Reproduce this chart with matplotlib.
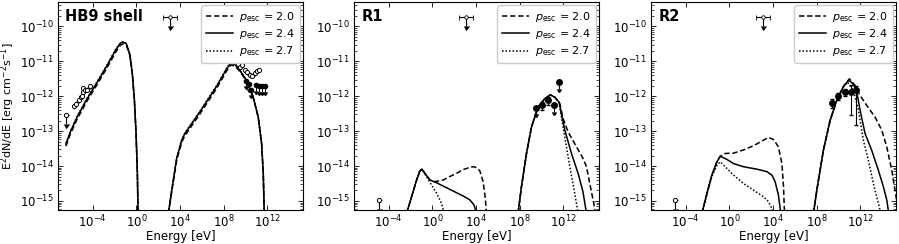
import numpy as np
import matplotlib
matplotlib.use("Agg")
import matplotlib.pyplot as plt
from matplotlib.lines import Line2D
from matplotlib.ticker import FixedLocator, LogLocator, NullFormatter

plt.rcParams['font.family'] = ['DejaVu Sans']
plt.rcParams['mathtext.fontset'] = 'dejavusans'

# ---------------- data (log10 E [eV], log10 E^2dN/dE [erg cm^-2 s^-1]) -------------
panel_titles = ["HB9 shell", "R1", "R2"]
legend_labels = [r"$p_{\rm esc}$ = 2.0", r"$p_{\rm esc}$ = 2.4", r"$p_{\rm esc}$ = 2.7"]
xtick_exps = [-4, 0, 4, 8, 12]

# HB9 shell - low-energy (synchrotron) component
hb9_lo_E = [-6.47, -6.06, -5.45, -4.52, -3.6, -2.69, -1.93, -1.47, -1.22, -0.92, -0.61, -0.37, -0.18, -0.03, 0.09, 0.15]
hb9_lo_20 = [-13.43, -13.08, -12.66, -12.13, -11.66, -11.18, -10.75, -10.54, -10.5, -10.55, -10.83, -11.4, -12.16, -13.1, -14.23, -15.35]
hb9_lo_24 = [-13.37, -13.02, -12.6, -12.07, -11.6, -11.12, -10.69, -10.48, -10.45, -10.5, -10.79, -11.36, -12.12, -13.07, -14.21, -15.35]
hb9_lo_27 = [-13.35, -13.0, -12.58, -12.05, -11.58, -11.1, -10.67, -10.47, -10.44, -10.49, -10.78, -11.35, -12.11, -13.06, -14.2, -15.35]
# HB9 shell - high-energy component
hb9_hi_E = [2.94, 3.25, 3.7, 4.16, 4.45, 5.83, 7.36, 8.28, 8.64, 9.04, 9.5, 10.12, 10.73, 11.19, 11.5, 11.65, 11.74]
hb9_hi_20 = [-15.35, -14.72, -13.83, -13.32, -13.13, -12.51, -11.78, -11.28, -11.11, -11.13, -11.29, -11.57, -12.04, -12.6, -13.36, -14.21, -15.35]
hb9_hi_24 = [-15.35, -14.69, -13.78, -13.26, -13.07, -12.45, -11.72, -11.22, -11.06, -11.09, -11.26, -11.55, -12.03, -12.6, -13.36, -14.21, -15.35]
hb9_hi_27 = [-15.35, -14.67, -13.76, -13.24, -13.05, -12.43, -11.7, -11.2, -11.05, -11.08, -11.25, -11.55, -12.03, -12.6, -13.36, -14.21, -15.35]
# HB9 data
hb9_radio_E = [-5.73, -5.55, -5.3, -5.12, -5.0, -4.94, -4.88, -4.7, -4.52, -4.27]
hb9_radio_F = [-12.29, -12.21, -12.12, -12.03, -11.98, -11.88, -11.76, -11.83, -11.81, -11.72]
hb9_gev_E = [8.64, 8.88, 9.13, 9.34, 9.56, 9.74, 9.95, 10.16, 10.41, 10.66, 10.87, 11.08, 11.27]
hb9_gev_F = [-11.03, -10.98, -11.0, -11.07, -11.17, -11.12, -11.26, -11.31, -11.38, -11.41, -11.34, -11.29, -11.24]
hb9_fill_E = [10.1, 10.34, 10.55, 10.95, 11.27, 11.57, 11.79]
hb9_fill_F = [-11.55, -11.64, -11.81, -11.69, -11.72, -11.72, -11.72]
hb9_ul_radio = (-6.45, -12.55)

# R1
r1_lo_E = [-2.37, -1.91, -1.45, -1.15, -0.96, -0.69, -0.23, 0.07, 0.39, 0.99, 1.61, 2.22, 2.83, 3.14, 3.44, 3.74, 3.81, 4.06, 4.36, 4.66, 4.84, 4.97]
r1_lo_20 = [-15.35, -14.88, -14.4, -14.14, -14.09, -14.21, -14.4, -14.45, -14.44, -14.4, -14.3, -14.21, -14.1, -14.07, -14.04, -14.02, -14.02, -14.05, -14.14, -14.45, -14.88, -15.35]
r1_lo_24_E = [-2.37, -1.91, -1.45, -1.15, -0.96, -0.69, -0.23, 0.39, 1.61, 2.83, 3.44, 3.81, 4.06]
r1_lo_24 = [-15.35, -14.88, -14.4, -14.14, -14.09, -14.21, -14.4, -14.48, -14.67, -14.86, -14.97, -15.11, -15.35]
r1_lo_27_E = [-2.37, -1.91, -1.45, -1.15, -0.96, -0.53, -0.07, 0.39, 0.84, 1.06]
r1_lo_27 = [-15.35, -14.88, -14.4, -14.14, -14.09, -14.31, -14.55, -14.78, -15.07, -15.35]
r1_hi_E = [7.87, 8.18, 8.64, 9.1, 9.71, 10.32, 10.84, 11.24, 11.63]
r1_hi_rise = [-15.35, -14.59, -13.64, -12.88, -12.31, -12.07, -11.96, -12.03, -12.17]
r1_hi_20_E = [11.7, 12.0, 12.46, 13.07, 13.83, 14.15, 14.51, 14.82, 14.97]
r1_hi_20 = [-12.21, -12.64, -13.02, -13.36, -13.78, -14.02, -14.59, -15.07, -15.35]
r1_hi_24_E = [11.85, 12.16, 12.77, 13.38, 13.83, 14.15]
r1_hi_24 = [-12.5, -12.97, -13.64, -14.21, -14.74, -15.35]
r1_hi_27_E = [11.7, 12.0, 12.31, 12.68, 13.07, 13.38]
r1_hi_27 = [-12.31, -12.88, -13.45, -14.12, -14.78, -15.35]
r1_pts_E = [9.56, 10.1, 10.63, 11.15, 11.63]
r1_pts_F = [-12.33, -12.26, -12.12, -12.26, -11.6]
r1_pts_ul = [True, False, False, True, True]
r1_ul_radio = (-4.91, -14.97)

# R2
r2_lo_rise_E = [-2.52, -2.06, -1.61, -1.15, -0.84]
r2_lo_rise = [-15.35, -14.78, -14.26, -13.88, -13.72]
r2_lo_20_E = [-0.84, -0.39, 0.38, 1.29, 2.21, 3.13, 3.59, 4.05, 4.5, 4.82, 4.97, 5.06]
r2_lo_20 = [-13.72, -13.64, -13.63, -13.54, -13.42, -13.26, -13.18, -13.24, -13.45, -13.93, -14.59, -15.35]
r2_lo_24_E = [-0.84, -0.23, 0.38, 1.29, 2.52, 3.44, 3.9, 4.2, 4.5, 4.72]
r2_lo_24 = [-13.72, -13.81, -13.93, -14.02, -14.09, -14.16, -14.26, -14.45, -14.83, -15.35]
r2_lo_27_E = [-2.52, -2.06, -1.61, -1.15, -0.84, -0.23, 0.38, 1.29, 2.21, 3.13, 3.59, 3.9, 4.05]
r2_lo_27 = [-15.35, -14.8, -14.3, -13.98, -13.88, -14.07, -14.26, -14.5, -14.69, -14.88, -15.02, -15.21, -15.35]
r2_hi_E = [7.72, 8.03, 8.63, 9.25, 9.86, 10.47]
r2_hi_rise = [-15.35, -14.69, -13.55, -12.69, -12.12, -11.72]
r2_hi_24_E = [10.47, 10.93, 11.33, 11.7, 12.0, 12.46, 13.07, 13.68, 14.14, 14.45, 14.63]
r2_hi_24 = [-11.72, -11.55, -11.63, -11.88, -12.4, -13.07, -13.55, -14.12, -14.59, -14.97, -15.35]
r2_hi_20_E = [10.47, 11.02, 11.54, 12.0, 12.61, 13.38, 13.99, 14.45, 14.91, 15.21, 15.42]
r2_hi_20 = [-11.72, -11.5, -11.69, -11.98, -12.26, -12.6, -12.97, -13.45, -14.12, -14.69, -15.1]
r2_hi_27_E = [10.47, 10.84, 11.39, 11.85, 12.3, 12.76, 13.22, 13.68, 13.9]
r2_hi_27 = [-11.74, -11.6, -11.83, -12.4, -13.26, -13.83, -14.5, -15.07, -15.35]
r2_pts_E = [9.46, 10.01, 10.62, 11.15, 11.63]
r2_pts_F = [-12.2, -12.0, -11.88, -11.88, -11.83]
r2_pts_lo = [-12.35, -12.1, -12.0, -12.55, -12.83]
r2_pts_hi = [-12.08, -11.92, -11.8, -11.68, -11.72]
r2_ul_radio = (-4.97, -14.97)

# X-ray upper limit (same in every panel)
xray_ul = (3.1, -9.72)
xray_ul_Erange = (2.46, 3.74)

# ---------------- figure -------------
W, H = 899, 244
fig = plt.figure(figsize=(W / 100, H / 100), dpi=100)
lefts = [58, 354, 651]
width = 245
bottom, top = 210, 2
axes = [fig.add_axes([l / W, (H - bottom) / H, width / W, (bottom - top) / H]) for l in lefts]

LW = 1.1
styles = {'20': dict(ls=(0, (3.5, 1.8)), color='k', lw=LW),
          '24': dict(ls='-', color='k', lw=LW),
          '27': dict(ls=(0, (1, 1.3)), color='k', lw=LW)}

EB = dict(color='k', ecolor='k', mec='k')

def P(E, F):
    return 10.0 ** np.asarray(E), 10.0 ** np.asarray(F)

def curve(ax, E, F, key):
    x, y = P(E, F)
    ax.plot(x, y, **styles[key])

def ul_point(ax, E, F, mfc='white', ms=3):
    x, y = P([E], [F])
    ax.errorbar(x, y, yerr=[y * 0.45], uplims=[True], fmt='o', ms=ms, mfc=mfc,
                elinewidth=0.8, capsize=1.8, mew=0.7, **EB)

def xray(ax):
    x, y = P([xray_ul[0]], [xray_ul[1]])
    xl = 10 ** xray_ul_Erange[0]
    xh = 10 ** xray_ul_Erange[1]
    ax.errorbar(x, y, xerr=[[x[0] - xl], [xh - x[0]]], yerr=[y * 0.45], uplims=[True],
                fmt='o', ms=2.5, mfc='white', elinewidth=0.8,
                capsize=1.8, mew=0.6, **EB)

# ---- HB9
ax = axes[0]
curve(ax, hb9_lo_E, hb9_lo_20, '20'); curve(ax, hb9_lo_E, hb9_lo_24, '24'); curve(ax, hb9_lo_E, hb9_lo_27, '27')
curve(ax, hb9_hi_E, hb9_hi_20, '20'); curve(ax, hb9_hi_E, hb9_hi_24, '24'); curve(ax, hb9_hi_E, hb9_hi_27, '27')
x, y = P(hb9_radio_E, hb9_radio_F)
ax.errorbar(x, y, yerr=y * 0.15, fmt='o', ms=3, mfc='white', elinewidth=0.6, mew=0.7, capsize=0, **EB)
x, y = P(hb9_gev_E, hb9_gev_F)
ax.errorbar(x, y, yerr=y * 0.15, fmt='o', ms=3, mfc='white', elinewidth=0.6, mew=0.7, capsize=0, **EB)
x, y = P(hb9_fill_E, hb9_fill_F)
ax.errorbar(x, y, yerr=y * 0.3, uplims=True, fmt='o', ms=3, mfc='k', elinewidth=0.7, capsize=1.5, **EB)
ul_point(ax, *hb9_ul_radio)
xray(ax)

# ---- R1
ax = axes[1]
curve(ax, r1_lo_E, r1_lo_20, '20'); curve(ax, r1_lo_24_E, r1_lo_24, '24'); curve(ax, r1_lo_27_E, r1_lo_27, '27')
for key, Et, Ft in [('20', r1_hi_20_E, r1_hi_20), ('24', r1_hi_24_E, r1_hi_24), ('27', r1_hi_27_E, r1_hi_27)]:
    curve(ax, list(r1_hi_E) + list(Et), list(r1_hi_rise) + list(Ft), key)
for E, F, u in zip(r1_pts_E, r1_pts_F, r1_pts_ul):
    x, y = P([E], [F])
    if u:
        ax.errorbar(x, y, yerr=[y * 0.35], uplims=[True], fmt='o', ms=4, mfc='k', elinewidth=0.8, capsize=1.5, **EB)
    else:
        ax.errorbar(x, y, yerr=[y * 0.25], fmt='o', ms=4, mfc='k', elinewidth=0.8, capsize=1.5, **EB)
ul_point(ax, *r1_ul_radio)
xray(ax)

# ---- R2
ax = axes[2]
curve(ax, list(r2_lo_rise_E) + r2_lo_20_E[1:], list(r2_lo_rise) + r2_lo_20[1:], '20')
curve(ax, list(r2_lo_rise_E) + r2_lo_24_E[1:], list(r2_lo_rise) + r2_lo_24[1:], '24')
curve(ax, r2_lo_27_E, r2_lo_27, '27')
curve(ax, list(r2_hi_E) + r2_hi_20_E[1:], list(r2_hi_rise) + r2_hi_20[1:], '20')
curve(ax, list(r2_hi_E) + r2_hi_24_E[1:], list(r2_hi_rise) + r2_hi_24[1:], '24')
curve(ax, list(r2_hi_E[:-1]) + r2_hi_27_E, list(r2_hi_rise[:-1]) + r2_hi_27, '27')
x, y = P(r2_pts_E, r2_pts_F)
ylo = y - 10.0 ** np.asarray(r2_pts_lo)
yhi = 10.0 ** np.asarray(r2_pts_hi) - y
ax.errorbar(x, y, yerr=[ylo, yhi], fmt='o', ms=4, mfc='k', elinewidth=0.8, capsize=1.5, **EB)
ul_point(ax, *r2_ul_radio)
xray(ax)

# ---- common formatting
handles = [Line2D([], [], **styles[k]) for k in ['20', '24', '27']]
for i, ax in enumerate(axes):
    ax.set_xscale('log'); ax.set_yscale('log')
    ax.set_xlim(10 ** -7.2, 10 ** 15.3)
    ax.set_ylim(5.5e-16, 5e-10)
    ax.xaxis.set_major_locator(FixedLocator([10.0 ** e for e in xtick_exps]))
    ax.xaxis.set_minor_locator(FixedLocator([]))
    ax.yaxis.set_major_locator(LogLocator(base=10, numticks=20))
    ax.yaxis.set_minor_locator(LogLocator(base=10, subs=np.arange(2, 10), numticks=20))
    ax.yaxis.set_minor_formatter(NullFormatter())
    ax.tick_params(which='both', direction='in', top=True, right=True, labelsize=8.5)
    ax.tick_params(which='major', length=3.5, width=0.6, pad=3)
    ax.tick_params(which='minor', length=2, width=0.5)
    for s in ax.spines.values():
        s.set_linewidth(0.8)
    ax.set_xlabel('Energy [eV]', fontsize=8.5)
    ax.xaxis.set_label_coords(0.5, -0.098)
    ax.text(0.03, 0.965, panel_titles[i], transform=ax.transAxes, ha='left', va='top',
            fontsize=10.5, fontweight='bold')
    ax.legend(handles, legend_labels, loc='upper right', fontsize=8, handlelength=2.4,
              borderaxespad=0.3, labelspacing=0.3, handletextpad=0.6, borderpad=0.4, framealpha=1)
axes[0].set_ylabel(r'E$^2$dN/dE [erg cm$^{-2}$s$^{-1}$]', fontsize=8)
axes[0].yaxis.set_label_coords(-0.168, 0.5)

fig.savefig('out.png', dpi=100)
